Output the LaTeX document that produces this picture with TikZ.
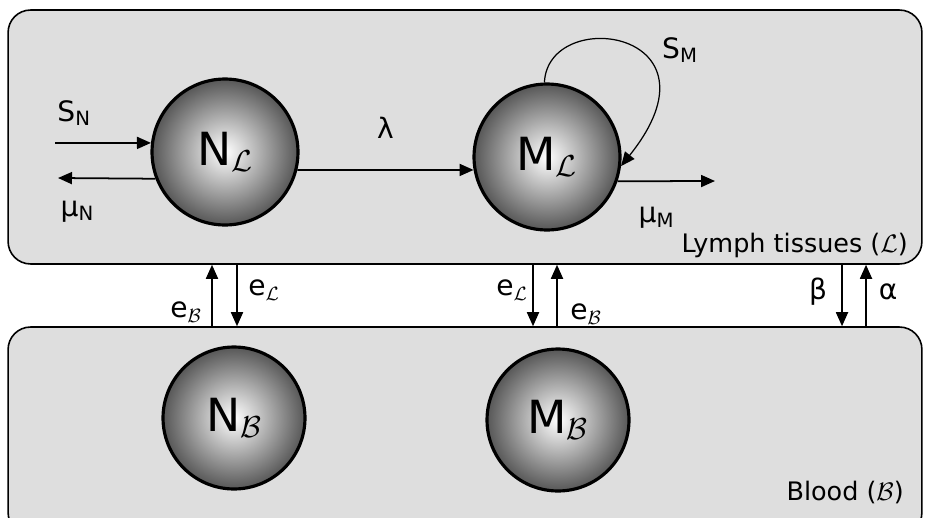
\documentclass[tikz,border=0pt]{standalone}
\usepackage{fontspec}
\setmainfont{DejaVu Sans}
\usepackage{tikz}
\usetikzlibrary{arrows.meta,positioning}
\definecolor{tissue}{HTML}{DEDEDE}

\begin{document}
\begin{tikzpicture}[
  x=0.02cm,y=-0.02cm,
  every node/.style={font=\fontsize{16}{18}\selectfont},
  panel/.style={draw=black,line width=0.9pt,fill=tissue,rounded corners=0.45cm,minimum width=18.28cm},
  cell/.style={circle,draw=black,line width=1.8pt,minimum size=2.92cm,inner sep=0pt,
    shading=radial,inner color=white,outer color=black!66,font=\fontsize{26}{28}\selectfont},
  arr/.style={-{Triangle[length=2.8mm,width=2.4mm]},line width=1pt},
  tag/.style={anchor=base east,font=\fontsize{14.5}{17}\selectfont}
]
\useasboundingbox (0,0) rectangle (925,517);
\node[panel,minimum height=5.08cm] (lymph) at (465,137) {};
\node[panel,minimum height=4.16cm] (blood) at (465,431) {};
\node[cell] (nl) at (225,152) {N$_{\mathcal L}$};
\node[cell] (ml) at (547,157) {M$_{\mathcal L}$};
\node[cell,minimum size=2.84cm] (nb) at (234,418) {N$_{\mathcal B}$};
\node[cell,minimum size=2.84cm] (mb) at (558,420) {M$_{\mathcal B}$};
\coordinate (sn) at (55,143);
\coordinate (mun) at (58,178);
\coordinate (mum) at (715,181);
\draw[arr] (sn) -- (nl.173) node[pos=0.2,above=6pt] (snlabel) {S\textsubscript{N}};
\draw[arr] (nl.201) -- (mun) node[pos=0.8,below=9pt] (munlabel) {μ\textsubscript{N}};
\draw[arr] (nl.346) -- (ml.190) node[midway,above=14pt] (lambda) {λ};
\draw[arr] (ml.341) -- (mum) node[pos=0.4,below=11pt] (mumlabel) {μ\textsubscript{M}};
\draw[arr,line width=0.7pt] (ml.92) .. controls (548,5) and (730,30) .. (ml.353);
\node (smlabel) at (680,50) {S\textsubscript{M}};
\node[tag] (lymphlabel) at (914,252) {Lymph tissues ($\mathcal L$)};
\node[tag] (bloodlabel) at (910,500) {Blood ($\mathcal B$)};
\coordinate (xa) at (212,295);
\coordinate (xb) at (237,295);
\coordinate (xc) at (533,295);
\coordinate (xd) at (557,295);
\coordinate (xe) at (842,295);
\coordinate (xf) at (866,295);
\draw[arr] (xa |- blood.north) -- (xa |- lymph.south);
\draw[arr] (xb |- lymph.south) -- (xb |- blood.north);
\draw[arr] (xc |- lymph.south) -- (xc |- blood.north);
\draw[arr] (xd |- blood.north) -- (xd |- lymph.south);
\draw[arr] (xe |- lymph.south) -- (xe |- blood.north);
\draw[arr] (xf |- blood.north) -- (xf |- lymph.south);
\node (el1) at (264,290) {e$_{\mathcal L}$};
\node (eb1) at (186,312) {e$_{\mathcal B}$};
\node (el2) at (512,290) {e$_{\mathcal L}$};
\node (eb2) at (586,314) {e$_{\mathcal B}$};
\node (beta) at (818,292) {β};
\node (alpha) at (888,292) {α};
\end{tikzpicture}
\end{document}
